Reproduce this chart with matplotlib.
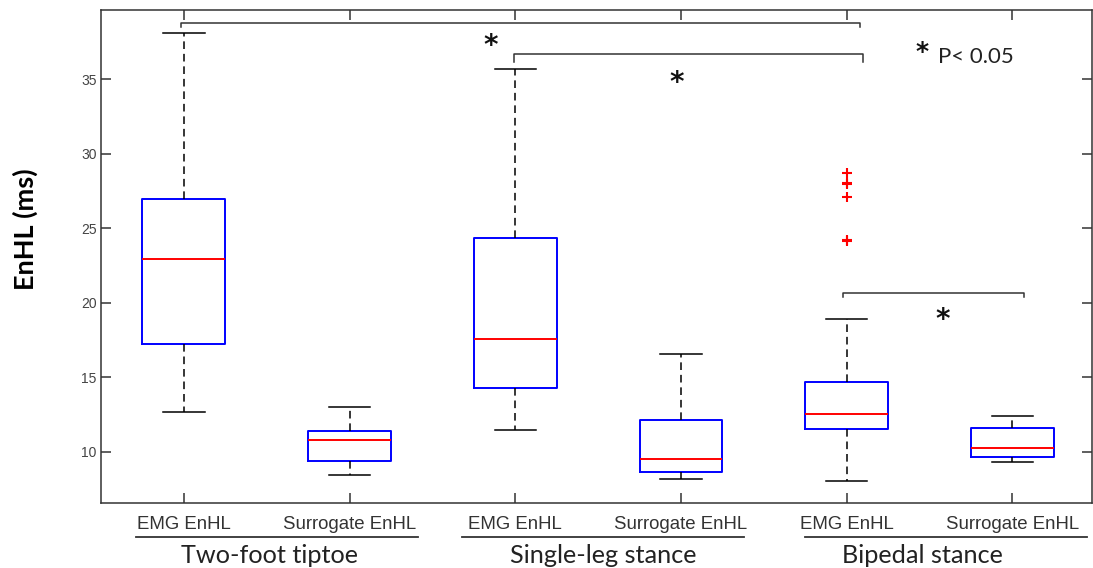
import matplotlib
matplotlib.use("Agg")
import matplotlib.pyplot as plt
import matplotlib.transforms as mtransforms

# ---- data ----
tick_labels = ["EMG EnHL", "Surrogate EnHL", "EMG EnHL", "Surrogate EnHL", "EMG EnHL", "Surrogate EnHL"]
groups = ["Two-foot tiptoe", "Single-leg stance", "Bipedal stance"]
medians = [22.9, 10.79, 17.55, 9.53, 12.51, 10.27]
q1 = [17.2, 9.40, 14.27, 8.64, 11.50, 9.62]
q3 = [26.95, 11.40, 24.33, 12.13, 14.70, 11.61]
whislo = [12.65, 8.42, 11.45, 8.17, 8.03, 9.29]
whishi = [38.1, 12.98, 35.64, 16.56, 18.90, 12.37]
fliers = [[], [], [], [], [28.72, 28.05, 27.95, 27.11, 24.2, 24.15], []]

# significance brackets: (x_left, x_right, y, drop)
brackets = [(0.98, 5.08, 38.74, 0.22), (2.99, 5.10, 36.66, 0.53), (4.98, 6.07, 20.63, 0.25)]
stars = [(2.852, 37.23), (3.975, 34.73), (5.579, 18.82)]
legend_star = (5.455, 36.80)
legend_text = "P< 0.05"

positions = list(range(1, 7))

plt.rcParams['lines.scale_dashes'] = False
fig = plt.figure(figsize=(10.93, 5.68), dpi=100)
ax = fig.add_axes([101/1093, 1 - 503.3/568, 991/1093, 493.3/568])

stats = []
for i in range(6):
    stats.append(dict(med=medians[i], q1=q1[i], q3=q3[i], whislo=whislo[i],
                      whishi=whishi[i], fliers=fliers[i], label=tick_labels[i]))

ax.bxp(stats, positions=positions, widths=0.5, capwidths=0.25, showfliers=True,
       boxprops=dict(color='blue', linewidth=1.4),
       medianprops=dict(color='red', linewidth=1.4),
       whiskerprops=dict(color='black', linestyle=(0, (5.5, 3.5)), linewidth=1.1),
       capprops=dict(color='black', linewidth=1.1),
       flierprops=dict(marker='+', markeredgecolor='red', markersize=7, markeredgewidth=1.5, linestyle='none'))

ax.set_xlim(0.5, 6.48)
ax.set_ylim(6.54, 39.63)
ax.set_yticks([10, 15, 20, 25, 30, 35])
ax.set_xticks(positions)
ax.set_xticklabels(tick_labels, fontsize=13.4, family='Liberation Sans', color='#333333')
for lab in ax.get_yticklabels():
    lab.set_fontsize(10)
    lab.set_family('Liberation Sans')
    lab.set_color('#444444')

ax.tick_params(axis='both', direction='in', length=7, width=1.1, color='#333333',
               top=True, right=True)
ax.tick_params(axis='x', pad=9)
ax.tick_params(axis='y', pad=3)
for s in ax.spines.values():
    s.set_color('#333333')
    s.set_linewidth(1.1)

# brackets
for (xl, xr, y, d) in brackets:
    ax.plot([xl, xl, xr, xr], [y - d, y, y, y - d], color='#333333', lw=1.1, clip_on=False)

# stars
for (x, y) in stars:
    ax.text(x, y, "*", fontsize=20, fontweight='bold', family='DejaVu Sans',
            ha='center', va='center', color='#111111')
ax.text(legend_star[0], legend_star[1], "*", fontsize=18, fontweight='bold', family='DejaVu Sans',
        ha='center', va='center', color='#111111')
ax.text(5.553, 36.07, legend_text, fontsize=16, family='Lato', ha='left', va='baseline', color='#222222')

# group labels & lines
trans = mtransforms.blended_transform_factory(ax.transData, ax.transAxes)
group_lines = [(0.71, 2.41), (2.68, 4.38), (4.75, 6.45)]
group_centers = [1.519, 3.53, 5.457]
for (xl, xr), xc, g in zip(group_lines, group_centers, groups):
    ax.plot([xl, xr], [-0.068, -0.068], transform=trans, color='#333333', lw=1.3, clip_on=False)
    ax.text(xc, -0.105, g, transform=trans, fontsize=18.2, family='Lato',
            ha='center', va='center', color='#222222')

ax.set_ylabel("EnHL (ms)", fontsize=19.5, fontweight='bold', family='Lato', color='black')
ax.yaxis.set_label_coords(-0.064, 0.555)

fig.savefig("out.png", dpi=100)
